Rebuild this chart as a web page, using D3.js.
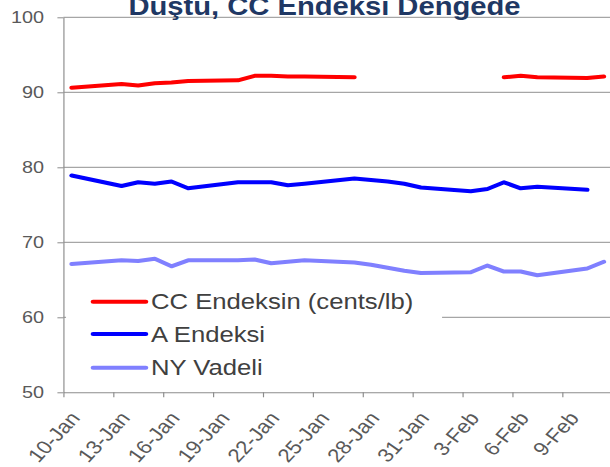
<!DOCTYPE html>
<html>
<head>
<meta charset="utf-8">
<script src="https://cdn.jsdelivr.net/npm/d3@7"></script>
<style>
	html, body { margin: 0; padding: 0; background: #fff; overflow: hidden; }
	svg { display: block; font-family: "Liberation Sans", Arial, sans-serif; }
</style>
</head>
<body>
<svg id="chart"></svg>
<script>
// trading days, Jan 10 - Feb 11
const dates = [
	'2025-01-10', '2025-01-13', '2025-01-14', '2025-01-15', '2025-01-16', '2025-01-17',
	'2025-01-20', '2025-01-21', '2025-01-22', '2025-01-23', '2025-01-24',
	'2025-01-27', '2025-01-28', '2025-01-29', '2025-01-30', '2025-01-31',
	'2025-02-03', '2025-02-04', '2025-02-05', '2025-02-06', '2025-02-07',
	'2025-02-10', '2025-02-11'
];
const ccIndex = [
	90.6, 91.1, 90.9, 91.2, 91.3, 91.5,
	91.6, 92.2, 92.2, 92.1, 92.1,
	92.0, null, null, null, null,
	null, null, 92.0, 92.2, 92.0,
	91.9, 92.1
];
const aIndex = [
	78.9, 77.5, 78.0, 77.8, 78.1, 77.2,
	78.0, 78.0, 78.0, 77.6, 77.8,
	78.5, 78.3, 78.1, 77.8, 77.3,
	76.8, 77.1, 78.0, 77.2, 77.4,
	77.0, null
];
const nyFutures = [
	67.1, 67.6, 67.5, 67.8, 66.8, 67.6,
	67.6, 67.7, 67.2, 67.4, 67.6,
	67.3, 67.0, 66.6, 66.2, 65.9,
	66.0, 66.9, 66.1, 66.1, 65.6,
	66.5, 67.4
];
const seriesNames = ['CC Endeksin (cents/lb)', 'A Endeksi', 'NY Vadeli'];
const seriesColors = ['#FF0000', '#0000FF', '#8080FF'];
const yTicks = [50, 60, 70, 80, 90, 100];
const xTicks = ['2025-01-10', '2025-01-13', '2025-01-16', '2025-01-19', '2025-01-22', '2025-01-25',
	'2025-01-28', '2025-01-31', '2025-02-03', '2025-02-06', '2025-02-09'];
const titleText = 'Düştü, CC Endeksi Dengede';

// the picture is a bit wider than its text, so draw narrow and stretch
const outW = 610;
const height = 467;
const stretch = 1.1667;
const width = outW / stretch;

const plotLeft = 54.3;
const dayW = 14.254;
const plotTop = 17.3;
const plotBottom = 392.3;

const parse = d3.utcParse('%Y-%m-%d');
const days = dates.map(parse);

const $svg = d3.select('#chart')
	.attr('width', outW)
	.attr('height', height)
	.attr('viewBox', `0 0 ${width} ${height}`)
	.attr('preserveAspectRatio', 'none');

const x = d3.scaleUtc()
	.domain([parse('2025-01-10'), parse('2025-02-12')])
	.range([plotLeft, plotLeft + 33 * dayW]);

const y = d3.scaleLinear()
	.domain([50, 100])
	.range([plotBottom, plotTop]);

// gridlines
$svg.append('g')
	.selectAll('line')
	.data(yTicks.filter(d => d > 50))
	.enter()
	.append('line')
	.attr('x1', plotLeft)
	.attr('x2', x.range()[1])
	.attr('y1', d => y(d))
	.attr('y2', d => y(d))
	.attr('stroke', '#A6A6A6')
	.attr('stroke-width', 1.2);

// y axis
const $yAxis = $svg.append('g')
	.attr('transform', `translate(${plotLeft},0)`)
	.call(d3.axisLeft(y).tickValues(yTicks).tickSize(5.1).tickSizeOuter(0).tickPadding(11.5));
$yAxis.select('.domain').attr('stroke', '#8C8C8C');
$yAxis.selectAll('line').attr('stroke', '#8C8C8C');
$yAxis.selectAll('text')
	.attr('font-size', 17)
	.attr('fill', '#595959')
	.attr('font-family', '"Liberation Sans", Arial, sans-serif');

// x axis
const $xAxis = $svg.append('g')
	.attr('transform', `translate(0,${plotBottom})`)
	.call(d3.axisBottom(x)
		.tickValues(xTicks.map(parse))
		.tickFormat(d3.utcFormat('%-d-%b'))
		.tickSize(5)
		.tickSizeOuter(0));
$xAxis.select('.domain').attr('stroke', '#8C8C8C');
$xAxis.selectAll('line').attr('stroke', '#8C8C8C');
$xAxis.selectAll('text')
	.attr('font-size', 19)
	.attr('fill', '#595959')
	.attr('font-family', '"Liberation Sans", Arial, sans-serif')
	.attr('text-anchor', 'end')
	.attr('x', 0)
	.attr('y', 0)
	.attr('dy', '0.35em')
	.attr('transform', 'translate(9.5,22) rotate(-51)');

// series lines
const series = [ccIndex, aIndex, nyFutures].map((vals, i) => ({
	name: seriesNames[i],
	color: seriesColors[i],
	points: vals.map((v, j) => ({ date: d3.utcHour.offset(days[j], 12), v }))
}));

const line = d3.line()
	.defined(d => d.v != null)
	.x(d => x(d.date))
	.y(d => y(d.v));

$svg.append('g')
	.selectAll('path')
	.data(series)
	.enter()
	.append('path')
	.attr('d', d => line(d.points))
	.attr('fill', 'none')
	.attr('stroke', d => d.color)
	.attr('stroke-width', 4)
	.attr('stroke-linejoin', 'round')
	.attr('stroke-linecap', 'round');

// legend
const $legend = $svg.append('g');
$legend.append('rect')
	.attr('x', 56.6)
	.attr('y', 283)
	.attr('width', 322.3)
	.attr('height', 103)
	.attr('fill', '#fff');

const legendY = [301.7, 334, 367.7];
const $item = $legend.selectAll('g.item')
	.data(series)
	.enter()
	.append('g')
	.attr('class', 'item')
	.attr('transform', (d, i) => `translate(0,${legendY[i]})`);
$item.append('line')
	.attr('x1', 79.7)
	.attr('x2', 125.1)
	.attr('stroke', d => d.color)
	.attr('stroke-width', 4)
	.attr('stroke-linecap', 'round');
$item.append('text')
	.attr('x', 129.4)
	.attr('y', 7.6)
	.attr('font-size', 22)
	.attr('fill', '#404040')
	.text(d => d.name);

// title, cut off at the top in the original
$svg.append('text')
	.attr('x', 278.1)
	.attr('y', 15)
	.attr('text-anchor', 'middle')
	.attr('font-size', 25)
	.attr('font-weight', 'bold')
	.attr('fill', '#1F3864')
	.text(titleText);
</script>
</body>
</html>
